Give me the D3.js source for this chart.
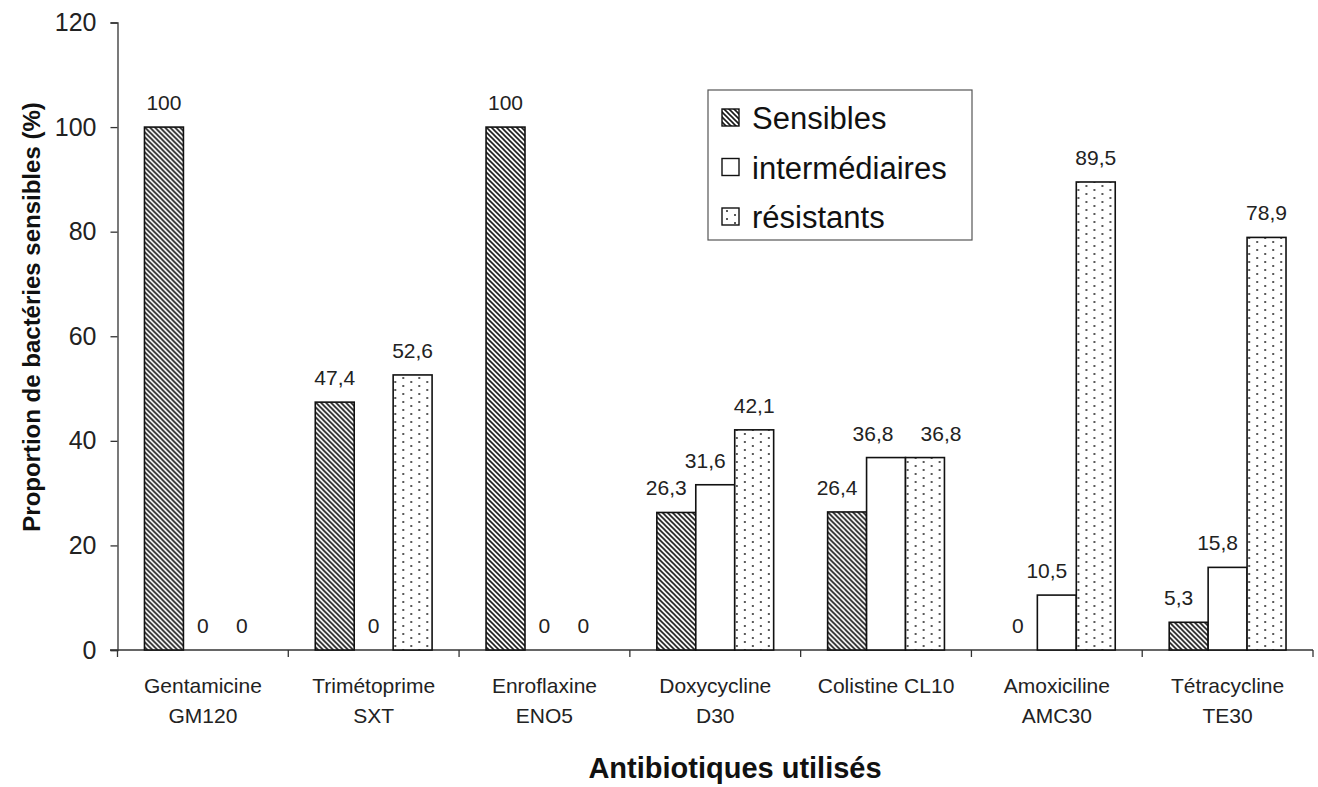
<!DOCTYPE html>
<html>
<head>
<meta charset="utf-8">
<script src="https://cdn.jsdelivr.net/npm/d3@7"></script>
<style>
  body { margin: 0; background: #fff; }
  svg { font-family: Arial, "Liberation Sans", sans-serif; }
</style>
</head>
<body>
<svg id="chart"></svg>
<script>
const width = 1318,
  height = 787;

// data
const antibiotics = ["Gentamicine|GM120", "Trimétoprime|SXT", "Enroflaxine|ENO5", "Doxycycline|D30", "Colistine CL10|", "Amoxiciline|AMC30", "Tétracycline|TE30"];
const seriesNames = ["Sensibles", "intermédiaires", "résistants"];
const sensibles = [100, 47.4, 100, 26.3, 26.4, 0, 5.3];
const intermediaires = [0, 0, 0, 31.6, 36.8, 10.5, 15.8];
const resistants = [0, 52.6, 0, 42.1, 36.8, 89.5, 78.9];
const yTicks = [0, 20, 40, 60, 80, 100, 120];

const series = [sensibles, intermediaires, resistants];
const fills = ["url(#hatch)", "#fff", "url(#dots)"];

const svg = d3.select("#chart").attr("width", width).attr("height", height);

/////////////// patterns ///////////////
const defs = svg.append("defs");
const hatch = defs.append("pattern")
  .attr("id", "hatch")
  .attr("patternUnits", "userSpaceOnUse")
  .attr("width", 5)
  .attr("height", 5);
hatch.append("rect").attr("width", 5).attr("height", 5).attr("fill", "#fff");
hatch.append("path")
  .attr("d", "M-1,-1 L6,6 M-6,-1 L1,6 M4,-1 L11,6")
  .attr("stroke", "#1a1a1a")
  .attr("stroke-width", 1.6);

const dots = defs.append("pattern")
  .attr("id", "dots")
  .attr("patternUnits", "userSpaceOnUse")
  .attr("width", 16)
  .attr("height", 8);
dots.append("rect").attr("width", 16).attr("height", 8).attr("fill", "#fff");
dots.append("circle").attr("cx", 3).attr("cy", 2).attr("r", 1).attr("fill", "#222");
dots.append("circle").attr("cx", 11).attr("cy", 6).attr("r", 1).attr("fill", "#222");

/////////////// scales ///////////////
const x0 = d3.scaleBand().domain(antibiotics).range([117.5, 1313]).padding(0);
const groupW = x0.bandwidth() * 0.684;
const x1 = d3.scaleBand()
  .domain([0, 1, 2])
  .range([(x0.bandwidth() - groupW) / 2, (x0.bandwidth() + groupW) / 2]);

const y = d3.scaleLinear().domain([0, 120]).range([650, 22.5]);

/////////////// axes ///////////////
const yAxis = svg.append("g")
  .attr("transform", "translate(117.5,0)")
  .call(d3.axisLeft(y).tickValues(yTicks).tickSize(7).tickPadding(14));
yAxis.select(".domain").attr("stroke", "#333").attr("stroke-width", 1.3);
yAxis.selectAll(".tick line").attr("stroke", "#333").attr("stroke-width", 1.3);
yAxis.selectAll(".tick text")
  .attr("font-size", 25)
  .attr("fill", "#222")
  .attr("font-family", "Arial, 'Liberation Sans', sans-serif");

// x axis line + ticks at band edges
const xEdges = antibiotics.map(d => x0(d)).concat([x0.range()[1]]);
svg.append("line")
  .attr("x1", 110).attr("x2", x0.range()[1])
  .attr("y1", y(0)).attr("y2", y(0))
  .attr("stroke", "#333").attr("stroke-width", 1.3);
svg.selectAll(".xtick")
  .data(xEdges)
  .enter()
  .append("line")
  .attr("class", "xtick")
  .attr("x1", d => d).attr("x2", d => d)
  .attr("y1", y(0)).attr("y2", y(0) + 7)
  .attr("stroke", "#333").attr("stroke-width", 1.3);

const xLabels = svg.selectAll(".xlabel")
  .data(antibiotics)
  .enter()
  .append("text")
  .attr("class", "xlabel")
  .attr("text-anchor", "middle")
  .attr("font-size", 21)
  .attr("fill", "#222");
xLabels.append("tspan")
  .attr("x", d => x0(d) + x0.bandwidth() / 2)
  .attr("y", 693)
  .text(d => d.split("|")[0]);
xLabels.append("tspan")
  .attr("x", d => x0(d) + x0.bandwidth() / 2)
  .attr("y", 723)
  .text(d => d.split("|")[1]);

/////////////// bars ///////////////
const groups = svg.selectAll(".group")
  .data(antibiotics)
  .enter()
  .append("g")
  .attr("class", "group")
  .attr("transform", d => "translate(" + x0(d) + ",0)");

// bar data for a group, plus label x nudged so labels don't touch taller neighbours
const barData = (d, i) => {
  const bars = series.map((s, k) => ({ k: k, v: s[i], lx: x1(k) + x1.bandwidth() / 2 }));
  bars.forEach((b, k) => {
    const next = bars[k + 1];
    if (!next) return;
    if (b.v > 0 && next.v === b.v) {
      b.lx -= 13;
      next.lx += 16;
    } else if (b.v > 0 && next.v > b.v) {
      b.lx -= 10;
    }
  });
  return bars;
};

groups.selectAll("rect")
  .data(barData)
  .enter()
  .filter(d => d.v > 0)
  .append("rect")
  .attr("x", d => x1(d.k))
  .attr("y", d => y(d.v))
  .attr("width", x1.bandwidth())
  .attr("height", d => y(0) - y(d.v))
  .attr("fill", d => fills[d.k])
  .attr("stroke", "#111")
  .attr("stroke-width", 1.6);

groups.selectAll(".val")
  .data(barData)
  .enter()
  .append("text")
  .attr("class", "val")
  .attr("x", d => d.lx)
  .attr("y", d => y(d.v) - 17)
  .attr("text-anchor", "middle")
  .attr("font-size", 21)
  .attr("fill", "#222")
  .text(d => String(d.v).replace(".", ","));

/////////////// titles ///////////////
svg.append("text")
  .attr("transform", "translate(40,317) rotate(-90)")
  .attr("text-anchor", "middle")
  .attr("font-size", 24)
  .attr("font-weight", "bold")
  .attr("fill", "#111")
  .text("Proportion de bactéries sensibles (%)");

svg.append("text")
  .attr("x", 735)
  .attr("y", 778)
  .attr("text-anchor", "middle")
  .attr("font-size", 29)
  .attr("font-weight", "bold")
  .attr("fill", "#111")
  .text("Antibiotiques utilisés");

/////////////// legend ///////////////
const legend = svg.append("g").attr("transform", "translate(708,90)");
legend.append("rect")
  .attr("width", 264)
  .attr("height", 150)
  .attr("fill", "#fff")
  .attr("stroke", "#555")
  .attr("stroke-width", 1.2);

const rows = legend.selectAll(".lrow")
  .data(seriesNames)
  .enter()
  .append("g")
  .attr("class", "lrow")
  .attr("transform", (d, i) => "translate(0," + (28 + i * 49.5) + ")");
rows.append("rect")
  .attr("x", 14)
  .attr("y", -9)
  .attr("width", 17)
  .attr("height", 17)
  .attr("fill", (d, i) => fills[i])
  .attr("stroke", "#111")
  .attr("stroke-width", 1.4);
rows.append("text")
  .attr("x", 44)
  .attr("y", 11)
  .attr("font-size", 31)
  .attr("fill", "#111")
  .text(d => d);
</script>
</body>
</html>
